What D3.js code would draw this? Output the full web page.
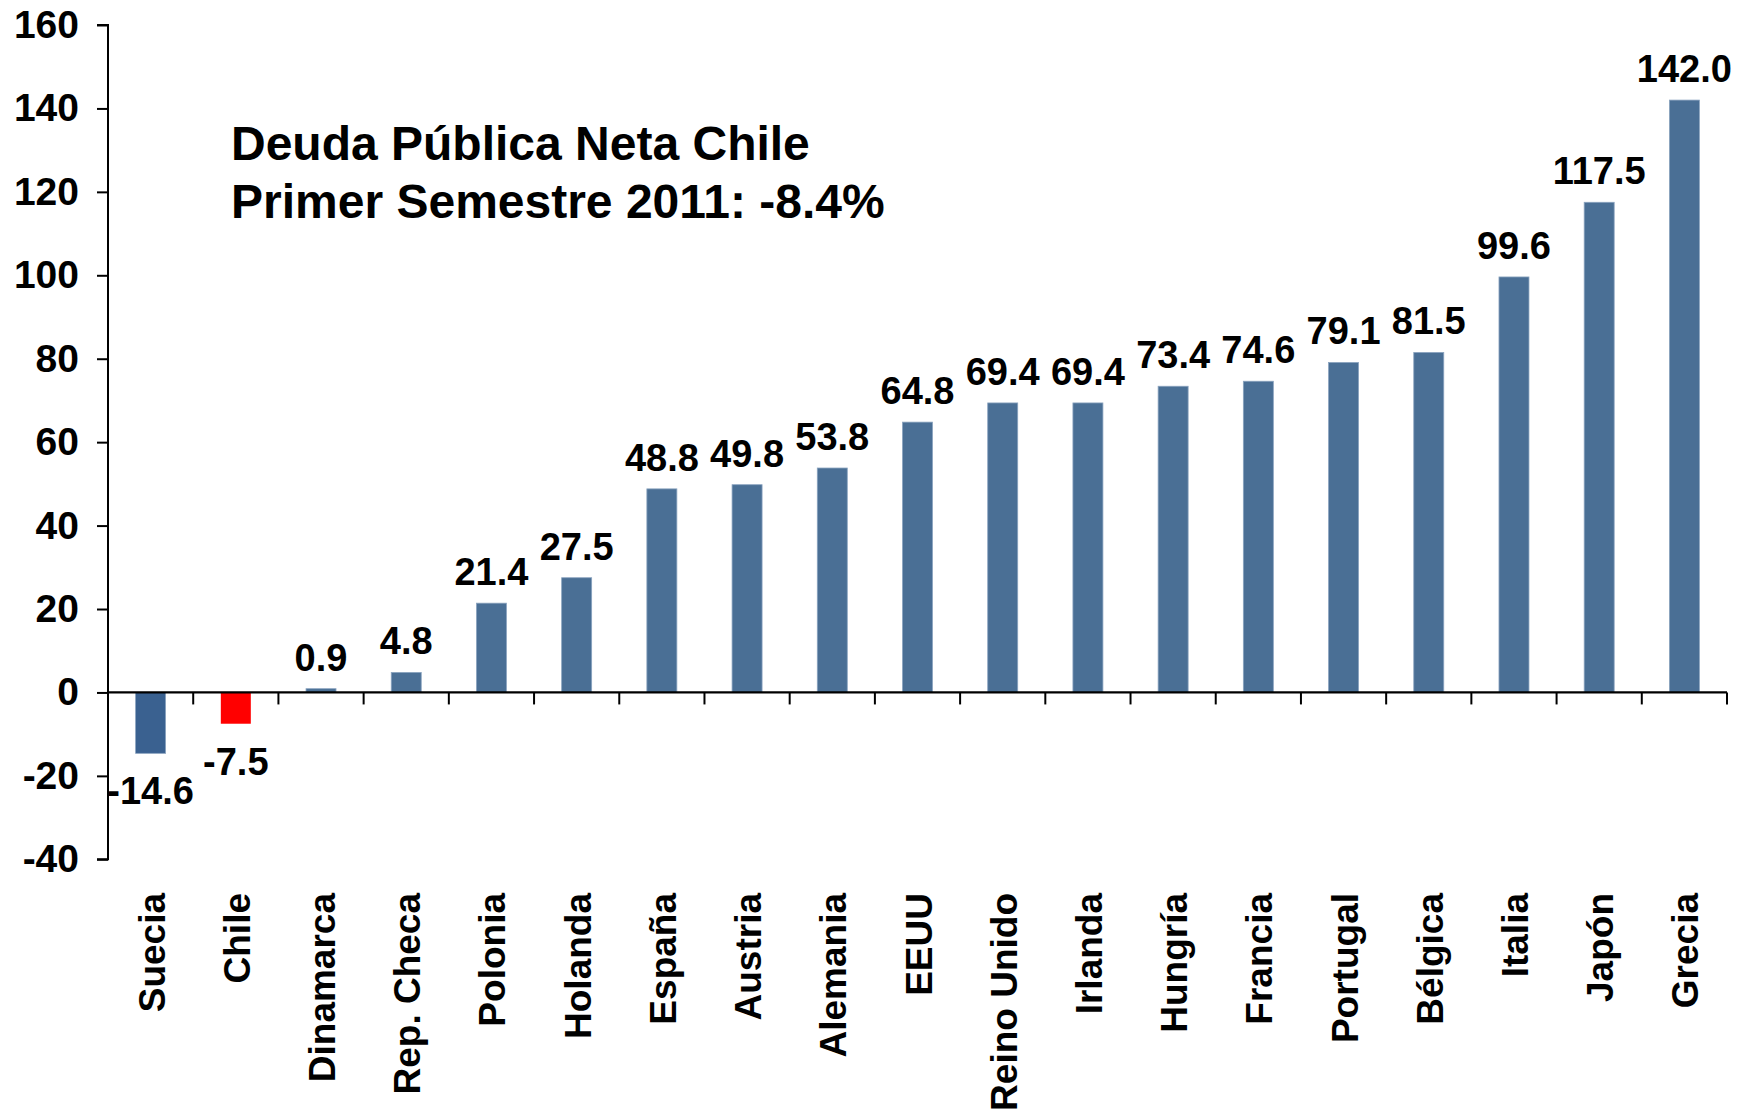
<!DOCTYPE html>
<html>
<head>
<meta charset="utf-8">
<script src="https://cdn.jsdelivr.net/npm/d3@7"></script>
<style>
  html, body { margin: 0; padding: 0; background: #fff; }
  svg { display: block; }
  text { font-family: "Liberation Sans", Arial, sans-serif; font-weight: bold; }
</style>
</head>
<body>
<svg id="chart" width="1737" height="1115"></svg>
<script>
const categories = ["Suecia","Chile","Dinamarca","Rep. Checa","Polonia","Holanda","España","Austria","Alemania","EEUU","Reino Unido","Irlanda","Hungría","Francia","Portugal","Bélgica","Italia","Japón","Grecia"];
const values = [-14.6,-7.5,0.9,4.8,21.4,27.5,48.8,49.8,53.8,64.8,69.4,69.4,73.4,74.6,79.1,81.5,99.6,117.5,142.0];
const yTicks = [-40,-20,0,20,40,60,80,100,120,140,160];
const titleLines = ["Deuda Pública Neta Chile","Primer Semestre 2011: -8.4%"];

(function () {
const svg = d3.select("#chart");
const pLeft = 108, pRight = 1727, pTop = 25, pBottom = 859.3;

const y = d3.scaleLinear().domain([-40,160]).range([pBottom, pTop]);
const x = d3.scaleBand().domain(categories).range([pLeft, pRight]).paddingInner(0.648).paddingOuter(0.324);

const barColor = d => d === "Chile" ? "#ff0000" : (d === "Suecia" ? "#3a6190" : "#4a6f95");
const fmt1 = v => d3.format(".1f")(v).replace("\u2212", "-");
const fmt0 = v => d3.format("d")(v).replace("\u2212", "-");

// bars
svg.append("g").selectAll("rect").data(categories).join("rect")
  .attr("x", d => x(d))
  .attr("width", x.bandwidth())
  .attr("y", (d,i) => y(Math.max(0, values[i])))
  .attr("height", (d,i) => Math.abs(y(values[i]) - y(0)))
  .attr("fill", d => barColor(d))
  .attr("stroke", d => d === "Chile" ? "none" : "#8aa3bf")
  .attr("stroke-width", 0.8);

// y axis
const yAxis = d3.axisLeft(y).tickValues(yTicks).tickSize(11).tickPadding(18).tickFormat(fmt0);
const gy = svg.append("g").attr("transform", `translate(${pLeft},0)`).call(yAxis);
gy.select(".domain").attr("stroke", "#000").attr("stroke-width", 2).attr("d", `M-11,${pTop}H0V${pBottom}H-11`);
gy.selectAll(".tick line").attr("stroke", "#000").attr("stroke-width", 2);
gy.selectAll(".tick text").attr("fill", "#000").style("font-size", "39px").style("font-family", "'Liberation Sans', Arial, sans-serif").style("font-weight", "bold");

// x axis line at zero
const step = x.step();
const gx = svg.append("g");
gx.append("line").attr("x1", pLeft).attr("x2", pRight).attr("y1", y(0)).attr("y2", y(0))
  .attr("stroke", "#000").attr("stroke-width", 2.2);
gx.selectAll("line.tk").data(d3.range(categories.length + 1)).join("line")
  .attr("class", "tk")
  .attr("x1", i => pLeft + i * step).attr("x2", i => pLeft + i * step)
  .attr("y1", y(0)).attr("y2", y(0) + 12)
  .attr("stroke", "#000").attr("stroke-width", 2);

// category labels (rotated)
svg.append("g").selectAll("text").data(categories).join("text")
  .attr("transform", d => `translate(${x(d) + x.bandwidth()/2 + 14},893) rotate(-90)`)
  .attr("text-anchor", "end")
  .style("font-size", "37px")
  .attr("fill", "#000")
  .text(d => d);

// value labels
svg.append("g").selectAll("text").data(categories).join("text")
  .attr("x", d => x(d) + x.bandwidth()/2)
  .attr("y", (d,i) => values[i] >= 0 ? y(values[i]) - 18 : y(values[i]) + 51)
  .attr("text-anchor", "middle")
  .style("font-size", "38px")
  .attr("fill", "#000")
  .text((d,i) => fmt1(values[i]));

// annotation title
svg.append("g").selectAll("text").data(titleLines).join("text")
  .attr("x", 231)
  .attr("y", (d,i) => 160 + i * 57.5)
  .style("font-size", "48px")
  .attr("fill", "#000")
  .text(d => d);
})();
</script>
</body>
</html>
